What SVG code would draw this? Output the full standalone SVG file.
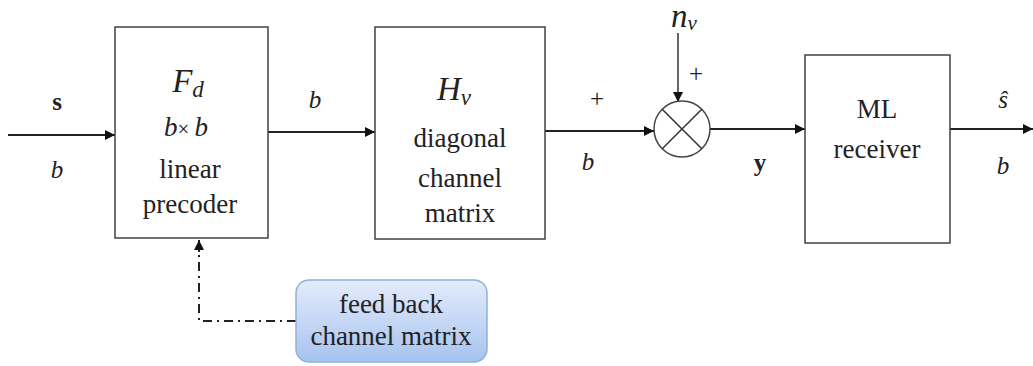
<svg xmlns="http://www.w3.org/2000/svg" width="1033" height="366" viewBox="0 0 1033 366">
<defs>
<style>
.box{fill:#fff;stroke:#404040;stroke-width:1.5}
.t{font-family:"Liberation Serif","Times New Roman",serif;font-size:27px;fill:#222;text-anchor:middle}
.lb{font-size:25px}
.it{font-style:italic}
.bd{font-weight:bold}
.m{font-family:"Liberation Serif","DejaVu Serif",serif;font-style:italic;font-size:33px;fill:#222;text-anchor:middle}
.ln{stroke:#222;stroke-width:2.2;fill:none}
.thin{stroke:#333;stroke-width:1.5;fill:none}
.dd{stroke:#222;stroke-width:2;fill:none;stroke-dasharray:9 5 2 5}
</style>
<marker id="ah" viewBox="0 0 10 10" refX="10" refY="5" markerWidth="10" markerHeight="10" markerUnits="userSpaceOnUse" orient="auto">
<path d="M0,0 L10,5 L0,10 z" fill="#111"/>
</marker>
<linearGradient id="fb" x1="0" y1="0" x2="0" y2="1">
<stop offset="0" stop-color="#e4ecfb"/>
<stop offset="1" stop-color="#a6c3ef"/>
</linearGradient>
</defs>

<g id="connectors">
<line class="ln" x1="8" y1="135" x2="115" y2="135" marker-end="url(#ah)"/>
<line class="ln" x1="268" y1="132" x2="375" y2="132" marker-end="url(#ah)"/>
<line class="ln" x1="545" y1="131" x2="654" y2="131" marker-end="url(#ah)"/>
<line class="thin" x1="678" y1="33" x2="678" y2="102" marker-end="url(#ah)"/>
<line class="ln" x1="710" y1="129" x2="805" y2="129" marker-end="url(#ah)"/>
<line class="ln" x1="950" y1="129" x2="1033" y2="129" marker-end="url(#ah)"/>
<path class="dd" d="M296,321 L199,321 L199,250"/>
<line stroke="#222" stroke-width="2" x1="199" y1="252" x2="199" y2="240" marker-end="url(#ah)"/>
<text class="t lb bd" x="57" y="110">s</text>
<text class="t lb it" x="57" y="178">b</text>
<text class="t lb it" x="315" y="108">b</text>
<text class="t lb" x="597" y="107">+</text>
<text class="t lb it" x="588" y="170">b</text>
<text class="t lb" x="696" y="82">+</text>
<text class="t lb bd" x="760" y="171">y</text>
<text class="t lb it" x="1003" y="108">ŝ</text>
<text class="t lb it" x="1003" y="174">b</text>
</g>

<g id="precoder">
<rect class="box" x="115" y="27" width="153" height="211"/>
<text class="m" x="188" y="92">F<tspan font-size="23" dy="5">d</tspan></text>
<text class="t it" x="186" y="136">b<tspan font-style="normal" font-size="21">× </tspan>b</text>
<text class="t" x="190" y="178">linear</text>
<text class="t" x="190" y="213">precoder</text>
</g>

<g id="channel">
<rect class="box" x="375" y="27" width="170" height="212"/>
<text class="m" x="454" y="100">H<tspan font-size="23" dy="5">v</tspan></text>
<text class="t" x="460" y="147">diagonal</text>
<text class="t" x="460" y="187">channel</text>
<text class="t" x="460" y="222">matrix</text>
</g>

<g id="adder">
<circle cx="682" cy="129" r="28" fill="#fff" stroke="#444" stroke-width="1.5"/>
<line class="thin" x1="662.2" y1="109.2" x2="701.8" y2="148.8"/>
<line class="thin" x1="701.8" y1="109.2" x2="662.2" y2="148.8"/>
</g>

<g id="noise">
<text class="m" x="684" y="27" font-size="28">n<tspan font-size="21" dy="3">v</tspan></text>
</g>

<g id="receiver">
<rect class="box" x="805" y="55" width="145" height="188"/>
<text class="t" x="877" y="118" font-size="31">ML</text>
<text class="t" x="877" y="158" font-size="31">receiver</text>
</g>

<g id="feedback">
<rect x="296" y="280" width="191" height="82" rx="13" fill="url(#fb)" stroke="#8fb0de" stroke-width="1.5"/>
<text class="t" x="391" y="313" font-size="23">feed back</text>
<text class="t" x="391" y="345" font-size="23">channel matrix</text>
</g>
</svg>
